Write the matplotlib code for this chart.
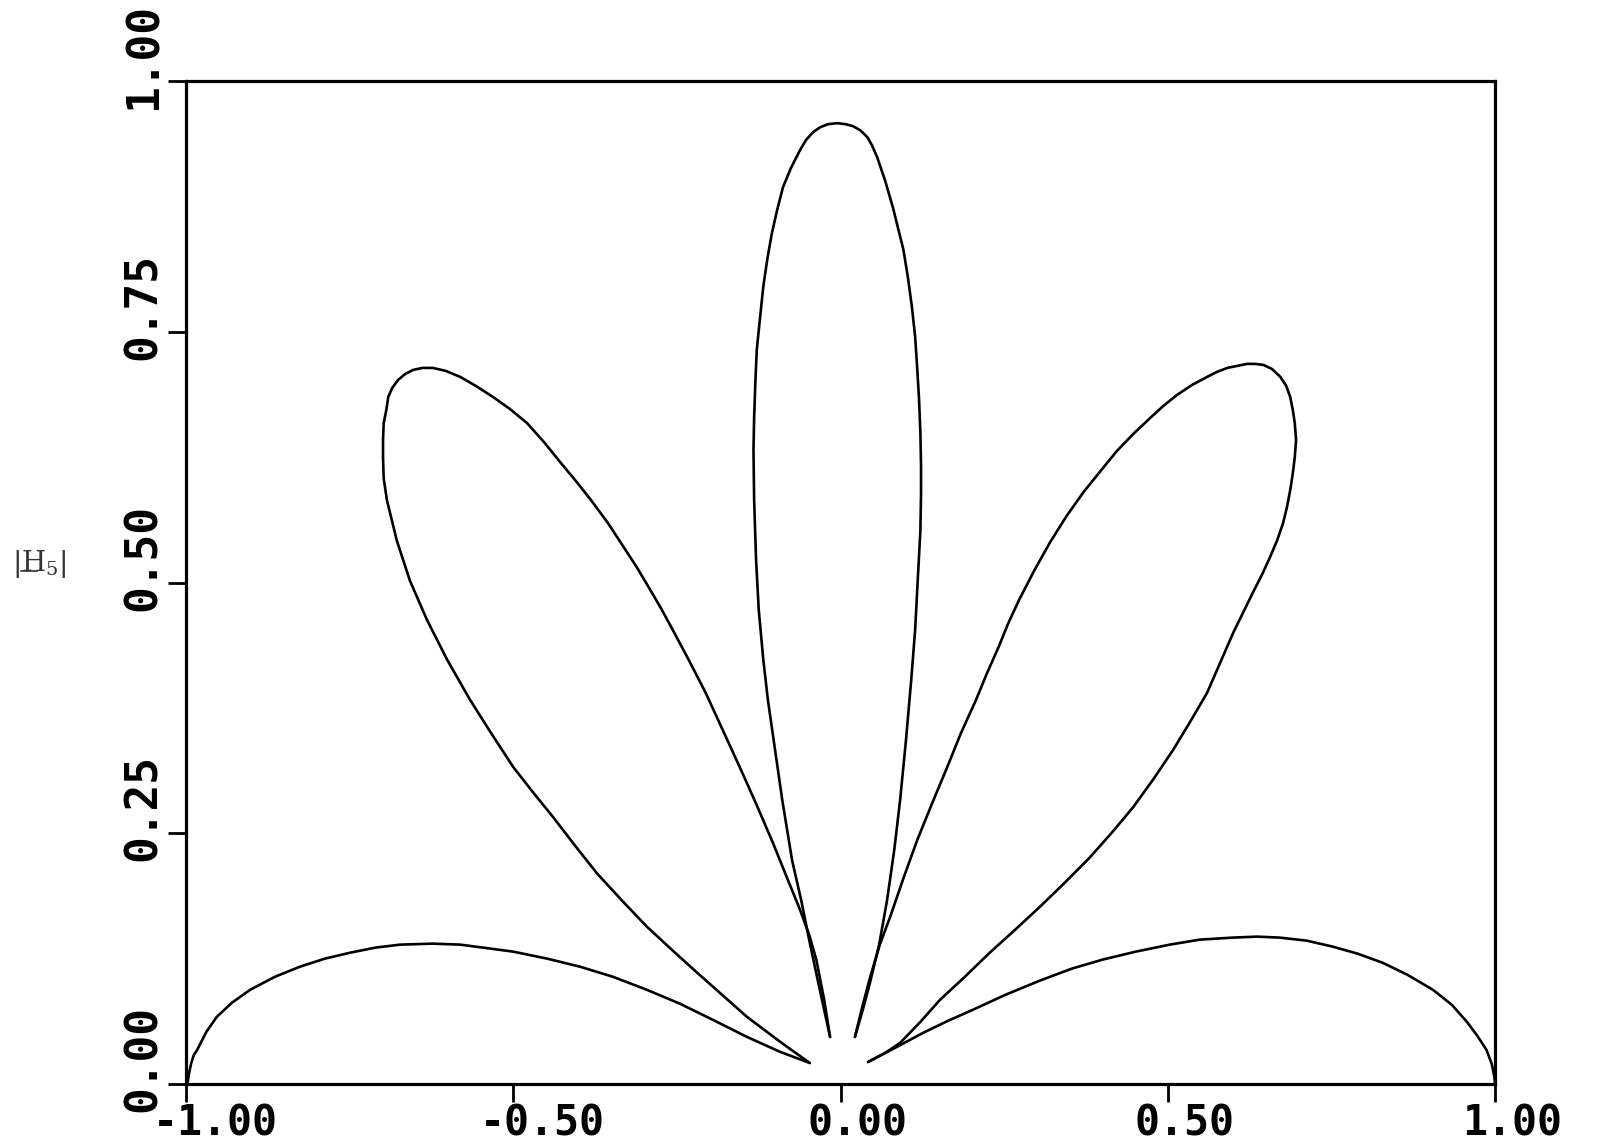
import numpy as np
import matplotlib
matplotlib.use("Agg")
import matplotlib.pyplot as plt
from matplotlib.lines import Line2D
from matplotlib.transforms import ScaledTranslation


# lobe outlines (x, y in data units)
side_left_x = [-0.998, -0.995, -0.992, -0.988, -0.983, -0.969, -0.953, -0.930, -0.902, -0.864,
               -0.826, -0.788, -0.749, -0.711, -0.673, -0.623, -0.581, -0.546, -0.500, -0.448,
               -0.398, -0.348, -0.296, -0.245, -0.195, -0.143, -0.092, -0.047]
side_left_y = [0.000, 0.012, 0.021, 0.029, 0.034, 0.052, 0.067, 0.081, 0.094, 0.107,
               0.117, 0.125, 0.131, 0.136, 0.139, 0.140, 0.139, 0.136, 0.132, 0.125,
               0.117, 0.107, 0.094, 0.080, 0.064, 0.047, 0.032, 0.021]

big_left_x = [-0.047, -0.092, -0.143, -0.181, -0.219, -0.258, -0.296, -0.334, -0.372, -0.406,
              -0.439, -0.470, -0.500, -0.534, -0.566, -0.601, -0.632, -0.658, -0.678, -0.693,
              -0.698, -0.699, -0.699, -0.698, -0.694, -0.691, -0.685, -0.676, -0.665, -0.653,
              -0.639, -0.623, -0.603, -0.581, -0.557, -0.531, -0.505, -0.479, -0.453, -0.427,
              -0.404, -0.381, -0.355, -0.331, -0.311, -0.291, -0.274, -0.259, -0.232, -0.206,
              -0.180, -0.154, -0.128, -0.103, -0.082, -0.062, -0.048, -0.037, -0.025, -0.016]
big_left_y = [0.021, 0.042, 0.067, 0.089, 0.111, 0.134, 0.157, 0.183, 0.210, 0.238,
              0.266, 0.291, 0.316, 0.350, 0.383, 0.423, 0.463, 0.502, 0.542, 0.582,
              0.604, 0.625, 0.642, 0.659, 0.672, 0.685, 0.694, 0.702, 0.708, 0.712,
              0.714, 0.714, 0.711, 0.705, 0.696, 0.685, 0.673, 0.659, 0.640, 0.619,
              0.601, 0.582, 0.559, 0.535, 0.515, 0.493, 0.474, 0.456, 0.423, 0.390,
              0.353, 0.316, 0.278, 0.240, 0.206, 0.174, 0.149, 0.124, 0.084, 0.047]

main_x = [-0.016, -0.034, -0.048, -0.060, -0.074, -0.089, -0.100, -0.111, -0.118, -0.125,
          -0.129, -0.132, -0.133, -0.132, -0.130, -0.128, -0.123, -0.118, -0.112, -0.105,
          -0.097, -0.088, -0.076, -0.062, -0.053, -0.042, -0.031, -0.019, -0.005, 0.008,
          0.019, 0.030, 0.041, 0.048, 0.056, 0.068, 0.080, 0.088, 0.096, 0.103,
          0.109, 0.114, 0.117, 0.120, 0.122, 0.123, 0.123, 0.122, 0.118, 0.114,
          0.108, 0.100, 0.091, 0.082, 0.071, 0.059, 0.045, 0.034, 0.022]
main_y = [0.047, 0.101, 0.144, 0.183, 0.223, 0.283, 0.333, 0.383, 0.423, 0.473,
          0.522, 0.582, 0.632, 0.665, 0.702, 0.732, 0.764, 0.795, 0.822, 0.848,
          0.871, 0.894, 0.913, 0.931, 0.941, 0.949, 0.954, 0.957, 0.958, 0.957,
          0.955, 0.951, 0.944, 0.936, 0.924, 0.901, 0.874, 0.853, 0.832, 0.804,
          0.775, 0.745, 0.715, 0.682, 0.649, 0.617, 0.589, 0.552, 0.503, 0.453,
          0.403, 0.343, 0.283, 0.233, 0.183, 0.139, 0.101, 0.074, 0.047]

big_right_x = [0.022, 0.034, 0.045, 0.060, 0.076, 0.096, 0.117, 0.140, 0.163, 0.184,
               0.207, 0.224, 0.241, 0.256, 0.273, 0.296, 0.320, 0.345, 0.371, 0.397,
               0.422, 0.447, 0.473, 0.493, 0.514, 0.537, 0.560, 0.575, 0.591, 0.606,
               0.621, 0.633, 0.646, 0.659, 0.672, 0.681, 0.687, 0.691, 0.694, 0.696,
               0.694, 0.691, 0.687, 0.682, 0.676, 0.667, 0.656, 0.644, 0.630, 0.615,
               0.600, 0.580, 0.560, 0.534, 0.508, 0.478, 0.447, 0.415, 0.381, 0.343,
               0.305, 0.267, 0.228, 0.190, 0.152, 0.122, 0.091, 0.068, 0.042]
big_right_y = [0.047, 0.079, 0.106, 0.139, 0.167, 0.205, 0.243, 0.280, 0.316, 0.350,
               0.383, 0.410, 0.435, 0.459, 0.483, 0.512, 0.540, 0.566, 0.590, 0.611,
               0.631, 0.648, 0.664, 0.676, 0.687, 0.697, 0.705, 0.710, 0.714, 0.716,
               0.718, 0.718, 0.717, 0.713, 0.705, 0.696, 0.685, 0.672, 0.659, 0.642,
               0.625, 0.609, 0.592, 0.575, 0.559, 0.542, 0.525, 0.508, 0.490, 0.470,
               0.450, 0.420, 0.390, 0.361, 0.333, 0.304, 0.276, 0.251, 0.226, 0.201,
               0.177, 0.154, 0.131, 0.107, 0.084, 0.062, 0.041, 0.031, 0.022]

side_right_x = [0.042, 0.083, 0.126, 0.164, 0.202, 0.252, 0.304, 0.353, 0.400, 0.451,
                0.503, 0.549, 0.599, 0.636, 0.671, 0.712, 0.752, 0.790, 0.828, 0.866,
                0.905, 0.934, 0.957, 0.973, 0.987, 0.995, 0.999, 1.000]
side_right_y = [0.022, 0.036, 0.051, 0.063, 0.074, 0.089, 0.103, 0.115, 0.124, 0.132,
                0.139, 0.144, 0.146, 0.147, 0.146, 0.143, 0.137, 0.130, 0.121, 0.109,
                0.094, 0.079, 0.062, 0.048, 0.034, 0.020, 0.007, 0.000]

lobes = [(side_left_x, side_left_y), (big_left_x, big_left_y), (main_x, main_y),
         (big_right_x, big_right_y), (side_right_x, side_right_y)]

x_ticks = [-1.0, -0.5, 0.0, 0.5, 1.0]
x_labels = ["-1.00", "-0.50", "0.00", "0.50", "1.00"]
y_ticks = [0.0, 0.25, 0.5, 0.75, 1.0]
y_labels = ["0.00", "0.25", "0.50", "0.75", "1.00"]


plt.rcParams["mathtext.fontset"] = "dejavuserif"

fig = plt.figure(figsize=(16.05, 11.48), dpi=100)
ax = fig.add_axes([0.1159, 0.0557, 0.8156, 0.8737])

for lx, ly in lobes:
    ax.plot(lx, ly, color="black", linewidth=1.9, solid_joinstyle="round",
            solid_capstyle="round")

ax.set_xlim(-1, 1)
ax.set_ylim(0, 1)

for sp in ax.spines.values():
    sp.set_linewidth(2.3)

ax.set_xticks(x_ticks)
ax.set_xticklabels(x_labels, fontfamily="DejaVu Sans Mono", fontweight="bold", fontsize=30)
ax.set_yticks(y_ticks)
ax.set_yticklabels(y_labels, fontfamily="DejaVu Sans Mono", fontweight="bold", fontsize=32,
                   rotation=90)
ax.tick_params(axis="both", direction="out", length=13, width=2)
ax.tick_params(axis="x", pad=0)
ax.tick_params(axis="y", pad=2)

# the plotter starts each label at the tick instead of centring it
dx = ScaledTranslation(-0.33, 0, fig.dpi_scale_trans)
for lab in ax.get_xticklabels():
    lab.set_ha("left")
    lab.set_transform(lab.get_transform() + dx)
dy = ScaledTranslation(0, -0.28, fig.dpi_scale_trans)
for lab in ax.get_yticklabels():
    lab.set_va("bottom")
    lab.set_transform(lab.get_transform() + dy)

# axis name |H5| with the vector bar under the H
fig.text(39 / 1605, 1 - 564 / 1148, r"$|\mathrm{H}_5|$", fontsize=20,
         ha="center", va="center", color="#333333")
fig.add_artist(Line2D([21 / 1605, 37 / 1605], [1 - 571 / 1148, 1 - 571 / 1148],
                      transform=fig.transFigure, color="#333333", linewidth=1.2))

fig.savefig("out.png", dpi=100)
